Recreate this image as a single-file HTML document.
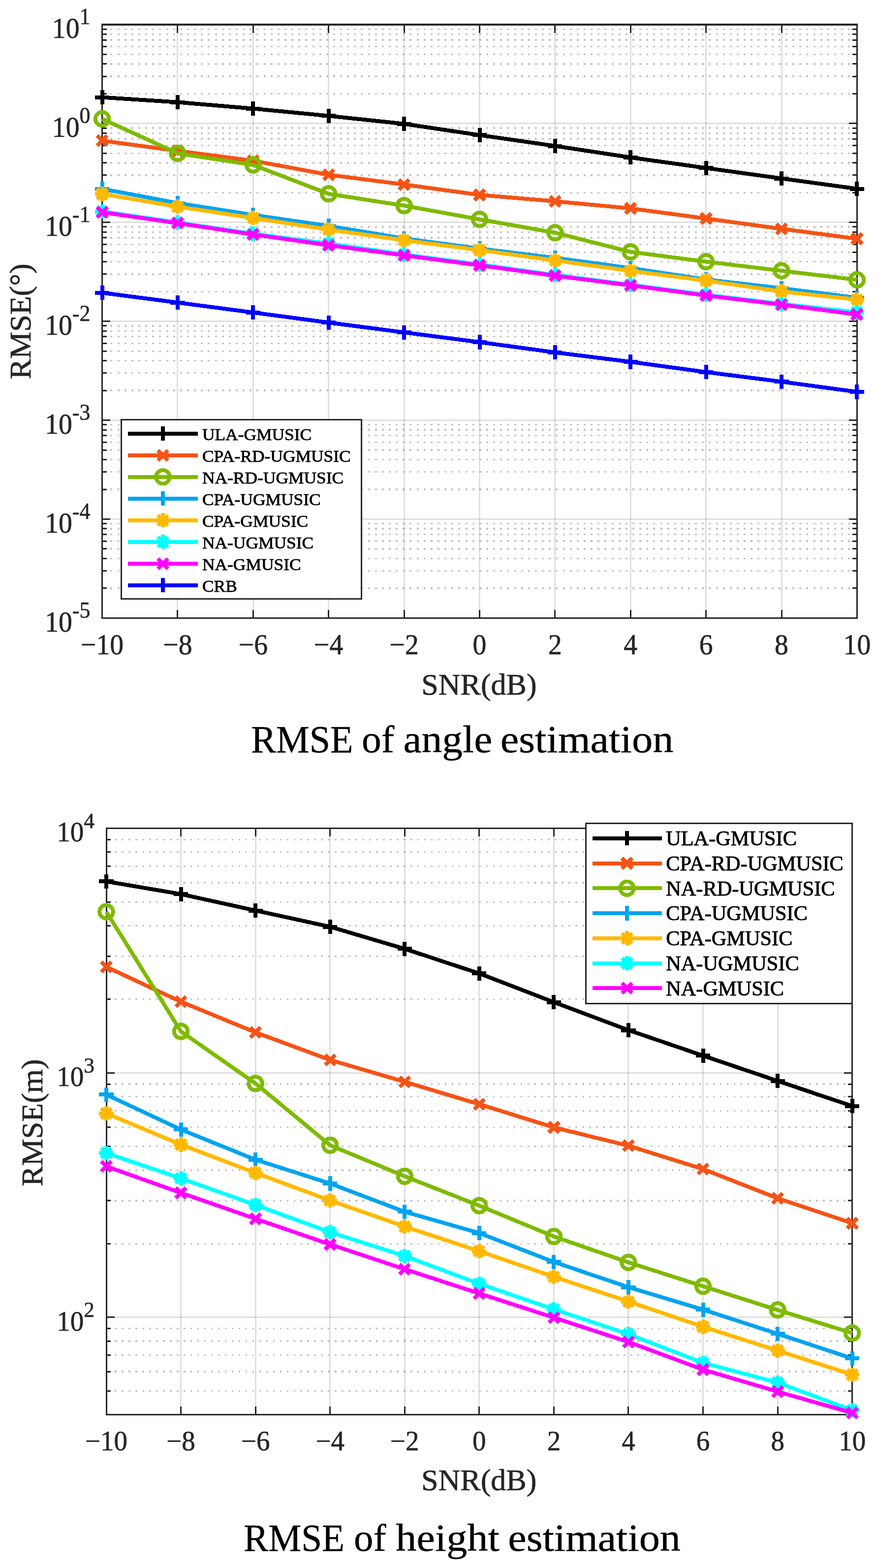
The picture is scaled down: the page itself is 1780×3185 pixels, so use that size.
<!DOCTYPE html>
<html><head><meta charset="utf-8"><title>RMSE plots</title><style>html,body{margin:0;padding:0;background:#fff;}svg{display:block;}</style></head><body>
<svg width="1780" height="3185" viewBox="0 0 1780 3185" shape-rendering="crispEdges">
<rect width="1780" height="3185" fill="#fff"/>
<path d="M360.98 50V1255.4M514.36 50V1255.4M667.74 50V1255.4M821.12 50V1255.4M974.5 50V1255.4M1127.88 50V1255.4M1281.26 50V1255.4M1434.64 50V1255.4M1588.02 50V1255.4" stroke="#262626" stroke-opacity="0.15" stroke-width="3" fill="none"/>
<path d="M207.6 250.9H1741.4M207.6 451.8H1741.4M207.6 652.7H1741.4M207.6 853.6H1741.4M207.6 1054.5H1741.4" stroke="#262626" stroke-opacity="0.15" stroke-width="3" fill="none"/>
<path d="M207.6 59.19H1741.4M207.6 69.47H1741.4M207.6 81.12H1741.4M207.6 94.57H1741.4M207.6 110.48H1741.4M207.6 129.95H1741.4M207.6 155.05H1741.4M207.6 190.42H1741.4M207.6 260.09H1741.4M207.6 270.37H1741.4M207.6 282.02H1741.4M207.6 295.47H1741.4M207.6 311.38H1741.4M207.6 330.85H1741.4M207.6 355.95H1741.4M207.6 391.32H1741.4M207.6 460.99H1741.4M207.6 471.27H1741.4M207.6 482.92H1741.4M207.6 496.37H1741.4M207.6 512.28H1741.4M207.6 531.75H1741.4M207.6 556.85H1741.4M207.6 592.22H1741.4M207.6 661.89H1741.4M207.6 672.17H1741.4M207.6 683.82H1741.4M207.6 697.27H1741.4M207.6 713.18H1741.4M207.6 732.65H1741.4M207.6 757.75H1741.4M207.6 793.12H1741.4M207.6 862.79H1741.4M207.6 873.07H1741.4M207.6 884.72H1741.4M207.6 898.17H1741.4M207.6 914.08H1741.4M207.6 933.55H1741.4M207.6 958.65H1741.4M207.6 994.02H1741.4M207.6 1063.69H1741.4M207.6 1073.97H1741.4M207.6 1085.62H1741.4M207.6 1099.07H1741.4M207.6 1114.98H1741.4M207.6 1134.45H1741.4M207.6 1159.55H1741.4M207.6 1194.92H1741.4" stroke="#262626" stroke-opacity="0.27" stroke-width="3.3" stroke-dasharray="4 10.14" stroke-dashoffset="-2.71" fill="none"/>
<path d="M360.98 1255.4V1238.9M360.98 50V66.5M514.36 1255.4V1238.9M514.36 50V66.5M667.74 1255.4V1238.9M667.74 50V66.5M821.12 1255.4V1238.9M821.12 50V66.5M974.5 1255.4V1238.9M974.5 50V66.5M1127.88 1255.4V1238.9M1127.88 50V66.5M1281.26 1255.4V1238.9M1281.26 50V66.5M1434.64 1255.4V1238.9M1434.64 50V66.5M1588.02 1255.4V1238.9M1588.02 50V66.5M207.6 50H224.1M1741.4 50H1724.9M207.6 250.9H224.1M1741.4 250.9H1724.9M207.6 451.8H224.1M1741.4 451.8H1724.9M207.6 652.7H224.1M1741.4 652.7H1724.9M207.6 853.6H224.1M1741.4 853.6H1724.9M207.6 1054.5H224.1M1741.4 1054.5H1724.9M207.6 1255.4H224.1M1741.4 1255.4H1724.9M207.6 59.19H216.6M1741.4 59.19H1732.4M207.6 69.47H216.6M1741.4 69.47H1732.4M207.6 81.12H216.6M1741.4 81.12H1732.4M207.6 94.57H216.6M1741.4 94.57H1732.4M207.6 110.48H216.6M1741.4 110.48H1732.4M207.6 129.95H216.6M1741.4 129.95H1732.4M207.6 155.05H216.6M1741.4 155.05H1732.4M207.6 190.42H216.6M1741.4 190.42H1732.4M207.6 260.09H216.6M1741.4 260.09H1732.4M207.6 270.37H216.6M1741.4 270.37H1732.4M207.6 282.02H216.6M1741.4 282.02H1732.4M207.6 295.47H216.6M1741.4 295.47H1732.4M207.6 311.38H216.6M1741.4 311.38H1732.4M207.6 330.85H216.6M1741.4 330.85H1732.4M207.6 355.95H216.6M1741.4 355.95H1732.4M207.6 391.32H216.6M1741.4 391.32H1732.4M207.6 460.99H216.6M1741.4 460.99H1732.4M207.6 471.27H216.6M1741.4 471.27H1732.4M207.6 482.92H216.6M1741.4 482.92H1732.4M207.6 496.37H216.6M1741.4 496.37H1732.4M207.6 512.28H216.6M1741.4 512.28H1732.4M207.6 531.75H216.6M1741.4 531.75H1732.4M207.6 556.85H216.6M1741.4 556.85H1732.4M207.6 592.22H216.6M1741.4 592.22H1732.4M207.6 661.89H216.6M1741.4 661.89H1732.4M207.6 672.17H216.6M1741.4 672.17H1732.4M207.6 683.82H216.6M1741.4 683.82H1732.4M207.6 697.27H216.6M1741.4 697.27H1732.4M207.6 713.18H216.6M1741.4 713.18H1732.4M207.6 732.65H216.6M1741.4 732.65H1732.4M207.6 757.75H216.6M1741.4 757.75H1732.4M207.6 793.12H216.6M1741.4 793.12H1732.4M207.6 862.79H216.6M1741.4 862.79H1732.4M207.6 873.07H216.6M1741.4 873.07H1732.4M207.6 884.72H216.6M1741.4 884.72H1732.4M207.6 898.17H216.6M1741.4 898.17H1732.4M207.6 914.08H216.6M1741.4 914.08H1732.4M207.6 933.55H216.6M1741.4 933.55H1732.4M207.6 958.65H216.6M1741.4 958.65H1732.4M207.6 994.02H216.6M1741.4 994.02H1732.4M207.6 1063.69H216.6M1741.4 1063.69H1732.4M207.6 1073.97H216.6M1741.4 1073.97H1732.4M207.6 1085.62H216.6M1741.4 1085.62H1732.4M207.6 1099.07H216.6M1741.4 1099.07H1732.4M207.6 1114.98H216.6M1741.4 1114.98H1732.4M207.6 1134.45H216.6M1741.4 1134.45H1732.4M207.6 1159.55H216.6M1741.4 1159.55H1732.4M207.6 1194.92H216.6M1741.4 1194.92H1732.4" stroke="#262626" stroke-width="3" fill="none"/>
<g fill="#262626" shape-rendering="crispEdges"><rect x="206" y="48" width="3" height="1209"/><rect x="1740" y="48" width="3" height="1209"/><rect x="206" y="48" width="1537" height="4"/><rect x="206" y="1254" width="1537" height="3"/></g>
<polyline points="207.6,197.7 360.98,207.6 514.36,220.6 667.74,235.4 821.12,251.6 974.5,274.4 1127.88,296.5 1281.26,319.8 1434.64,341.25 1588.02,362.5 1741.4,383.5" fill="none" stroke="#000000" stroke-width="8.0" stroke-linejoin="round" shape-rendering="crispEdges"/>
<g shape-rendering="crispEdges"><path d="M193 197.7H222.2M207.6 183.1V212.3" fill="none" stroke="#000000" stroke-width="8"/><path d="M346.38 207.6H375.58M360.98 193V222.2" fill="none" stroke="#000000" stroke-width="8"/><path d="M499.76 220.6H528.96M514.36 206V235.2" fill="none" stroke="#000000" stroke-width="8"/><path d="M653.14 235.4H682.34M667.74 220.8V250" fill="none" stroke="#000000" stroke-width="8"/><path d="M806.52 251.6H835.72M821.12 237V266.2" fill="none" stroke="#000000" stroke-width="8"/><path d="M959.9 274.4H989.1M974.5 259.8V289" fill="none" stroke="#000000" stroke-width="8"/><path d="M1113.28 296.5H1142.48M1127.88 281.9V311.1" fill="none" stroke="#000000" stroke-width="8"/><path d="M1266.66 319.8H1295.86M1281.26 305.2V334.4" fill="none" stroke="#000000" stroke-width="8"/><path d="M1420.04 341.25H1449.24M1434.64 326.65V355.85" fill="none" stroke="#000000" stroke-width="8"/><path d="M1573.42 362.5H1602.62M1588.02 347.9V377.1" fill="none" stroke="#000000" stroke-width="8"/><path d="M1726.8 383.5H1756M1741.4 368.9V398.1" fill="none" stroke="#000000" stroke-width="8"/></g>
<polyline points="207.6,285.7 360.98,306.5 514.36,326.5 667.74,355 821.12,374.8 974.5,395.9 1127.88,408.9 1281.26,423.3 1434.64,443.9 1588.02,464.8 1741.4,485" fill="none" stroke="#F65316" stroke-width="8.0" stroke-linejoin="round" shape-rendering="crispEdges"/>
<g shape-rendering="crispEdges"><path d="M197.28 275.38L217.92 296.02M197.28 296.02L217.92 275.38" fill="none" stroke="#F65316" stroke-width="8"/><path d="M350.66 296.18L371.3 316.82M350.66 316.82L371.3 296.18" fill="none" stroke="#F65316" stroke-width="8"/><path d="M504.04 316.18L524.68 336.82M504.04 336.82L524.68 316.18" fill="none" stroke="#F65316" stroke-width="8"/><path d="M657.42 344.68L678.06 365.32M657.42 365.32L678.06 344.68" fill="none" stroke="#F65316" stroke-width="8"/><path d="M810.8 364.48L831.44 385.12M810.8 385.12L831.44 364.48" fill="none" stroke="#F65316" stroke-width="8"/><path d="M964.18 385.58L984.82 406.22M964.18 406.22L984.82 385.58" fill="none" stroke="#F65316" stroke-width="8"/><path d="M1117.56 398.58L1138.2 419.22M1117.56 419.22L1138.2 398.58" fill="none" stroke="#F65316" stroke-width="8"/><path d="M1270.94 412.98L1291.58 433.62M1270.94 433.62L1291.58 412.98" fill="none" stroke="#F65316" stroke-width="8"/><path d="M1424.32 433.58L1444.96 454.22M1424.32 454.22L1444.96 433.58" fill="none" stroke="#F65316" stroke-width="8"/><path d="M1577.7 454.48L1598.34 475.12M1577.7 475.12L1598.34 454.48" fill="none" stroke="#F65316" stroke-width="8"/><path d="M1731.08 474.68L1751.72 495.32M1731.08 495.32L1751.72 474.68" fill="none" stroke="#F65316" stroke-width="8"/></g>
<polyline points="207.6,241.4 360.98,311.5 514.36,335 667.74,393.75 821.12,417.7 974.5,445.6 1127.88,472.7 1281.26,511.7 1434.64,531.5 1588.02,550 1741.4,568.4" fill="none" stroke="#7FBA00" stroke-width="8.0" stroke-linejoin="round" shape-rendering="crispEdges"/>
<g shape-rendering="crispEdges"><circle cx="207.6" cy="241.4" r="13.8" fill="none" stroke="#7FBA00" stroke-width="7.8"/><circle cx="360.98" cy="311.5" r="13.8" fill="none" stroke="#7FBA00" stroke-width="7.8"/><circle cx="514.36" cy="335" r="13.8" fill="none" stroke="#7FBA00" stroke-width="7.8"/><circle cx="667.74" cy="393.75" r="13.8" fill="none" stroke="#7FBA00" stroke-width="7.8"/><circle cx="821.12" cy="417.7" r="13.8" fill="none" stroke="#7FBA00" stroke-width="7.8"/><circle cx="974.5" cy="445.6" r="13.8" fill="none" stroke="#7FBA00" stroke-width="7.8"/><circle cx="1127.88" cy="472.7" r="13.8" fill="none" stroke="#7FBA00" stroke-width="7.8"/><circle cx="1281.26" cy="511.7" r="13.8" fill="none" stroke="#7FBA00" stroke-width="7.8"/><circle cx="1434.64" cy="531.5" r="13.8" fill="none" stroke="#7FBA00" stroke-width="7.8"/><circle cx="1588.02" cy="550" r="13.8" fill="none" stroke="#7FBA00" stroke-width="7.8"/><circle cx="1741.4" cy="568.4" r="13.8" fill="none" stroke="#7FBA00" stroke-width="7.8"/></g>
<polyline points="207.6,383.7 360.98,412.5 514.36,436.6 667.74,459 821.12,484.4 974.5,505 1127.88,523.8 1281.26,544.5 1434.64,567.8 1588.02,585.5 1741.4,604.8" fill="none" stroke="#00A4EF" stroke-width="8.0" stroke-linejoin="round" shape-rendering="crispEdges"/>
<g shape-rendering="crispEdges"><path d="M193 383.7H222.2M207.6 369.1V398.3" fill="none" stroke="#00A4EF" stroke-width="8"/><path d="M346.38 412.5H375.58M360.98 397.9V427.1" fill="none" stroke="#00A4EF" stroke-width="8"/><path d="M499.76 436.6H528.96M514.36 422V451.2" fill="none" stroke="#00A4EF" stroke-width="8"/><path d="M653.14 459H682.34M667.74 444.4V473.6" fill="none" stroke="#00A4EF" stroke-width="8"/><path d="M806.52 484.4H835.72M821.12 469.8V499" fill="none" stroke="#00A4EF" stroke-width="8"/><path d="M959.9 505H989.1M974.5 490.4V519.6" fill="none" stroke="#00A4EF" stroke-width="8"/><path d="M1113.28 523.8H1142.48M1127.88 509.2V538.4" fill="none" stroke="#00A4EF" stroke-width="8"/><path d="M1266.66 544.5H1295.86M1281.26 529.9V559.1" fill="none" stroke="#00A4EF" stroke-width="8"/><path d="M1420.04 567.8H1449.24M1434.64 553.2V582.4" fill="none" stroke="#00A4EF" stroke-width="8"/><path d="M1573.42 585.5H1602.62M1588.02 570.9V600.1" fill="none" stroke="#00A4EF" stroke-width="8"/><path d="M1726.8 604.8H1756M1741.4 590.2V619.4" fill="none" stroke="#00A4EF" stroke-width="8"/></g>
<polyline points="207.6,394 360.98,419.8 514.36,442.7 667.74,466.25 821.12,488 974.5,508 1127.88,529 1281.26,550.2 1434.64,570 1588.02,592 1741.4,608.5" fill="none" stroke="#FFB900" stroke-width="8.0" stroke-linejoin="round" shape-rendering="crispEdges"/>
<g shape-rendering="crispEdges"><path d="M193 394H222.2M207.6 379.4V408.6M197.28 383.68L217.92 404.32M197.28 404.32L217.92 383.68" fill="none" stroke="#FFB900" stroke-width="8"/><path d="M346.38 419.8H375.58M360.98 405.2V434.4M350.66 409.48L371.3 430.12M350.66 430.12L371.3 409.48" fill="none" stroke="#FFB900" stroke-width="8"/><path d="M499.76 442.7H528.96M514.36 428.1V457.3M504.04 432.38L524.68 453.02M504.04 453.02L524.68 432.38" fill="none" stroke="#FFB900" stroke-width="8"/><path d="M653.14 466.25H682.34M667.74 451.65V480.85M657.42 455.93L678.06 476.57M657.42 476.57L678.06 455.93" fill="none" stroke="#FFB900" stroke-width="8"/><path d="M806.52 488H835.72M821.12 473.4V502.6M810.8 477.68L831.44 498.32M810.8 498.32L831.44 477.68" fill="none" stroke="#FFB900" stroke-width="8"/><path d="M959.9 508H989.1M974.5 493.4V522.6M964.18 497.68L984.82 518.32M964.18 518.32L984.82 497.68" fill="none" stroke="#FFB900" stroke-width="8"/><path d="M1113.28 529H1142.48M1127.88 514.4V543.6M1117.56 518.68L1138.2 539.32M1117.56 539.32L1138.2 518.68" fill="none" stroke="#FFB900" stroke-width="8"/><path d="M1266.66 550.2H1295.86M1281.26 535.6V564.8M1270.94 539.88L1291.58 560.52M1270.94 560.52L1291.58 539.88" fill="none" stroke="#FFB900" stroke-width="8"/><path d="M1420.04 570H1449.24M1434.64 555.4V584.6M1424.32 559.68L1444.96 580.32M1424.32 580.32L1444.96 559.68" fill="none" stroke="#FFB900" stroke-width="8"/><path d="M1573.42 592H1602.62M1588.02 577.4V606.6M1577.7 581.68L1598.34 602.32M1577.7 602.32L1598.34 581.68" fill="none" stroke="#FFB900" stroke-width="8"/><path d="M1726.8 608.5H1756M1741.4 593.9V623.1M1731.08 598.18L1751.72 618.82M1731.08 618.82L1751.72 598.18" fill="none" stroke="#FFB900" stroke-width="8"/></g>
<polyline points="207.6,429.6 360.98,452 514.36,475 667.74,494.8 821.12,517 974.5,537.3 1127.88,558.6 1281.26,578.4 1434.64,598.8 1588.02,617.5 1741.4,634.2" fill="none" stroke="#00FFFF" stroke-width="8.0" stroke-linejoin="round" shape-rendering="crispEdges"/>
<g shape-rendering="crispEdges"><path d="M193 429.6H222.2M207.6 415V444.2M197.28 419.28L217.92 439.92M197.28 439.92L217.92 419.28" fill="none" stroke="#00FFFF" stroke-width="8"/><path d="M346.38 452H375.58M360.98 437.4V466.6M350.66 441.68L371.3 462.32M350.66 462.32L371.3 441.68" fill="none" stroke="#00FFFF" stroke-width="8"/><path d="M499.76 475H528.96M514.36 460.4V489.6M504.04 464.68L524.68 485.32M504.04 485.32L524.68 464.68" fill="none" stroke="#00FFFF" stroke-width="8"/><path d="M653.14 494.8H682.34M667.74 480.2V509.4M657.42 484.48L678.06 505.12M657.42 505.12L678.06 484.48" fill="none" stroke="#00FFFF" stroke-width="8"/><path d="M806.52 517H835.72M821.12 502.4V531.6M810.8 506.68L831.44 527.32M810.8 527.32L831.44 506.68" fill="none" stroke="#00FFFF" stroke-width="8"/><path d="M959.9 537.3H989.1M974.5 522.7V551.9M964.18 526.98L984.82 547.62M964.18 547.62L984.82 526.98" fill="none" stroke="#00FFFF" stroke-width="8"/><path d="M1113.28 558.6H1142.48M1127.88 544V573.2M1117.56 548.28L1138.2 568.92M1117.56 568.92L1138.2 548.28" fill="none" stroke="#00FFFF" stroke-width="8"/><path d="M1266.66 578.4H1295.86M1281.26 563.8V593M1270.94 568.08L1291.58 588.72M1270.94 588.72L1291.58 568.08" fill="none" stroke="#00FFFF" stroke-width="8"/><path d="M1420.04 598.8H1449.24M1434.64 584.2V613.4M1424.32 588.48L1444.96 609.12M1424.32 609.12L1444.96 588.48" fill="none" stroke="#00FFFF" stroke-width="8"/><path d="M1573.42 617.5H1602.62M1588.02 602.9V632.1M1577.7 607.18L1598.34 627.82M1577.7 627.82L1598.34 607.18" fill="none" stroke="#00FFFF" stroke-width="8"/><path d="M1726.8 634.2H1756M1741.4 619.6V648.8M1731.08 623.88L1751.72 644.52M1731.08 644.52L1751.72 623.88" fill="none" stroke="#00FFFF" stroke-width="8"/></g>
<polyline points="207.6,431.2 360.98,453.3 514.36,476.3 667.74,498.1 821.12,518.75 974.5,539 1127.88,560.1 1281.26,579.7 1434.64,600.3 1588.02,618.8 1741.4,638.8" fill="none" stroke="#FF00FF" stroke-width="8.0" stroke-linejoin="round" shape-rendering="crispEdges"/>
<g shape-rendering="crispEdges"><path d="M197.28 420.88L217.92 441.52M197.28 441.52L217.92 420.88" fill="none" stroke="#FF00FF" stroke-width="8"/><path d="M350.66 442.98L371.3 463.62M350.66 463.62L371.3 442.98" fill="none" stroke="#FF00FF" stroke-width="8"/><path d="M504.04 465.98L524.68 486.62M504.04 486.62L524.68 465.98" fill="none" stroke="#FF00FF" stroke-width="8"/><path d="M657.42 487.78L678.06 508.42M657.42 508.42L678.06 487.78" fill="none" stroke="#FF00FF" stroke-width="8"/><path d="M810.8 508.43L831.44 529.07M810.8 529.07L831.44 508.43" fill="none" stroke="#FF00FF" stroke-width="8"/><path d="M964.18 528.68L984.82 549.32M964.18 549.32L984.82 528.68" fill="none" stroke="#FF00FF" stroke-width="8"/><path d="M1117.56 549.78L1138.2 570.42M1117.56 570.42L1138.2 549.78" fill="none" stroke="#FF00FF" stroke-width="8"/><path d="M1270.94 569.38L1291.58 590.02M1270.94 590.02L1291.58 569.38" fill="none" stroke="#FF00FF" stroke-width="8"/><path d="M1424.32 589.98L1444.96 610.62M1424.32 610.62L1444.96 589.98" fill="none" stroke="#FF00FF" stroke-width="8"/><path d="M1577.7 608.48L1598.34 629.12M1577.7 629.12L1598.34 608.48" fill="none" stroke="#FF00FF" stroke-width="8"/><path d="M1731.08 628.48L1751.72 649.12M1731.08 649.12L1751.72 628.48" fill="none" stroke="#FF00FF" stroke-width="8"/></g>
<polyline points="207.6,594.7 360.98,614.6 514.36,634.8 667.74,655.2 821.12,675.2 974.5,695 1127.88,715.8 1281.26,735 1434.64,755.8 1588.02,775.3 1741.4,796" fill="none" stroke="#0000FF" stroke-width="8.0" stroke-linejoin="round" shape-rendering="crispEdges"/>
<g shape-rendering="crispEdges"><path d="M193 594.7H222.2M207.6 580.1V609.3" fill="none" stroke="#0000FF" stroke-width="8"/><path d="M346.38 614.6H375.58M360.98 600V629.2" fill="none" stroke="#0000FF" stroke-width="8"/><path d="M499.76 634.8H528.96M514.36 620.2V649.4" fill="none" stroke="#0000FF" stroke-width="8"/><path d="M653.14 655.2H682.34M667.74 640.6V669.8" fill="none" stroke="#0000FF" stroke-width="8"/><path d="M806.52 675.2H835.72M821.12 660.6V689.8" fill="none" stroke="#0000FF" stroke-width="8"/><path d="M959.9 695H989.1M974.5 680.4V709.6" fill="none" stroke="#0000FF" stroke-width="8"/><path d="M1113.28 715.8H1142.48M1127.88 701.2V730.4" fill="none" stroke="#0000FF" stroke-width="8"/><path d="M1266.66 735H1295.86M1281.26 720.4V749.6" fill="none" stroke="#0000FF" stroke-width="8"/><path d="M1420.04 755.8H1449.24M1434.64 741.2V770.4" fill="none" stroke="#0000FF" stroke-width="8"/><path d="M1573.42 775.3H1602.62M1588.02 760.7V789.9" fill="none" stroke="#0000FF" stroke-width="8"/><path d="M1726.8 796H1756M1741.4 781.4V810.6" fill="none" stroke="#0000FF" stroke-width="8"/></g>
<g font-family="'Liberation Serif', 'Times New Roman', serif" font-size="55.7" fill="#262626" stroke="#262626" stroke-width="0.6"><text transform="translate(183.5,77.2) scale(1,1.05)" text-anchor="end">10<tspan font-size="44" dy="-26.6">1</tspan></text><text transform="translate(183.5,278.1) scale(1,1.05)" text-anchor="end">10<tspan font-size="44" dy="-26.6">0</tspan></text><text transform="translate(183.5,479) scale(1,1.05)" text-anchor="end">10<tspan font-size="44" dy="-26.6">-1</tspan></text><text transform="translate(183.5,679.9) scale(1,1.05)" text-anchor="end">10<tspan font-size="44" dy="-26.6">-2</tspan></text><text transform="translate(183.5,880.8) scale(1,1.05)" text-anchor="end">10<tspan font-size="44" dy="-26.6">-3</tspan></text><text transform="translate(183.5,1081.7) scale(1,1.05)" text-anchor="end">10<tspan font-size="44" dy="-26.6">-4</tspan></text><text transform="translate(183.5,1282.6) scale(1,1.05)" text-anchor="end">10<tspan font-size="44" dy="-26.6">-5</tspan></text><text transform="translate(207.6,1329) scale(1,1.05)" text-anchor="middle">−10</text><text transform="translate(360.98,1329) scale(1,1.05)" text-anchor="middle">−8</text><text transform="translate(514.36,1329) scale(1,1.05)" text-anchor="middle">−6</text><text transform="translate(667.74,1329) scale(1,1.05)" text-anchor="middle">−4</text><text transform="translate(821.12,1329) scale(1,1.05)" text-anchor="middle">−2</text><text transform="translate(974.5,1329) scale(1,1.05)" text-anchor="middle">0</text><text transform="translate(1127.88,1329) scale(1,1.05)" text-anchor="middle">2</text><text transform="translate(1281.26,1329) scale(1,1.05)" text-anchor="middle">4</text><text transform="translate(1434.64,1329) scale(1,1.05)" text-anchor="middle">6</text><text transform="translate(1588.02,1329) scale(1,1.05)" text-anchor="middle">8</text><text transform="translate(1741.4,1329) scale(1,1.05)" text-anchor="middle">10</text></g>
<text x="973.4" y="1411" text-anchor="middle" font-family="'Liberation Serif', 'Times New Roman', serif" font-size="62" fill="#262626" stroke="#262626" stroke-width="0.7">SNR(dB)</text>
<text transform="translate(61.7,652.8) rotate(-90)" x="0" y="0" text-anchor="middle" font-family="'Liberation Serif', 'Times New Roman', serif" font-size="62" fill="#262626" stroke="#262626" stroke-width="0.7">RMSE(°)</text>
<g font-family="'Liberation Serif', 'Times New Roman', serif" font-size="78" fill="#000" stroke="#000" stroke-width="0.4"><text x="510.31" y="1527.8" textLength="207.23" lengthAdjust="spacingAndGlyphs">RMSE</text><text x="734.97" y="1527.8" textLength="66.28" lengthAdjust="spacingAndGlyphs">of</text><text x="819.56" y="1527.8" textLength="180.83" lengthAdjust="spacingAndGlyphs">angle</text><text x="1016.7" y="1527.8" textLength="351.78" lengthAdjust="spacingAndGlyphs">estimation</text></g>
<rect x="246" y="852.5" width="488.1" height="363.5" fill="#fff" stroke="#262626" stroke-width="3"/>
<path d="M260 880.8H401.7" stroke="#000000" stroke-width="8.0" fill="none"/>
<path d="M316.4 880.8H345.6M331 866.2V895.4" fill="none" stroke="#000000" stroke-width="8"/>
<text transform="translate(410.9,894.1) scale(1.027,1)" font-family="'Liberation Serif', 'Times New Roman', serif" font-size="34.5" fill="#000" stroke="#000" stroke-width="0.8">ULA-GMUSIC</text>
<path d="M260 924.8H401.7" stroke="#F65316" stroke-width="8.0" fill="none"/>
<path d="M320.68 914.48L341.32 935.12M320.68 935.12L341.32 914.48" fill="none" stroke="#F65316" stroke-width="8"/>
<text transform="translate(410.9,938.1) scale(1.027,1)" font-family="'Liberation Serif', 'Times New Roman', serif" font-size="34.5" fill="#000" stroke="#000" stroke-width="0.8">CPA-RD-UGMUSIC</text>
<path d="M260 968.8H401.7" stroke="#7FBA00" stroke-width="8.0" fill="none"/>
<circle cx="331" cy="968.8" r="13.8" fill="none" stroke="#7FBA00" stroke-width="7.8"/>
<text transform="translate(410.9,982.1) scale(1.027,1)" font-family="'Liberation Serif', 'Times New Roman', serif" font-size="34.5" fill="#000" stroke="#000" stroke-width="0.8">NA-RD-UGMUSIC</text>
<path d="M260 1012.8H401.7" stroke="#00A4EF" stroke-width="8.0" fill="none"/>
<path d="M316.4 1012.8H345.6M331 998.2V1027.4" fill="none" stroke="#00A4EF" stroke-width="8"/>
<text transform="translate(410.9,1026.1) scale(1.027,1)" font-family="'Liberation Serif', 'Times New Roman', serif" font-size="34.5" fill="#000" stroke="#000" stroke-width="0.8">CPA-UGMUSIC</text>
<path d="M260 1056.8H401.7" stroke="#FFB900" stroke-width="8.0" fill="none"/>
<path d="M316.4 1056.8H345.6M331 1042.2V1071.4M320.68 1046.48L341.32 1067.12M320.68 1067.12L341.32 1046.48" fill="none" stroke="#FFB900" stroke-width="8"/>
<text transform="translate(410.9,1070.1) scale(1.027,1)" font-family="'Liberation Serif', 'Times New Roman', serif" font-size="34.5" fill="#000" stroke="#000" stroke-width="0.8">CPA-GMUSIC</text>
<path d="M260 1100.8H401.7" stroke="#00FFFF" stroke-width="8.0" fill="none"/>
<path d="M316.4 1100.8H345.6M331 1086.2V1115.4M320.68 1090.48L341.32 1111.12M320.68 1111.12L341.32 1090.48" fill="none" stroke="#00FFFF" stroke-width="8"/>
<text transform="translate(410.9,1114.1) scale(1.027,1)" font-family="'Liberation Serif', 'Times New Roman', serif" font-size="34.5" fill="#000" stroke="#000" stroke-width="0.8">NA-UGMUSIC</text>
<path d="M260 1144.8H401.7" stroke="#FF00FF" stroke-width="8.0" fill="none"/>
<path d="M320.68 1134.48L341.32 1155.12M320.68 1155.12L341.32 1134.48" fill="none" stroke="#FF00FF" stroke-width="8"/>
<text transform="translate(410.9,1158.1) scale(1.027,1)" font-family="'Liberation Serif', 'Times New Roman', serif" font-size="34.5" fill="#000" stroke="#000" stroke-width="0.8">NA-GMUSIC</text>
<path d="M260 1188.8H401.7" stroke="#0000FF" stroke-width="8.0" fill="none"/>
<path d="M316.4 1188.8H345.6M331 1174.2V1203.4" fill="none" stroke="#0000FF" stroke-width="8"/>
<text transform="translate(410.9,1202.1) scale(1.027,1)" font-family="'Liberation Serif', 'Times New Roman', serif" font-size="34.5" fill="#000" stroke="#000" stroke-width="0.8">CRB</text>
<path d="M367.57 1682.7V2873.6M519.14 1682.7V2873.6M670.71 1682.7V2873.6M822.28 1682.7V2873.6M973.85 1682.7V2873.6M1125.42 1682.7V2873.6M1276.99 1682.7V2873.6M1428.56 1682.7V2873.6M1580.13 1682.7V2873.6" stroke="#262626" stroke-opacity="0.15" stroke-width="3" fill="none"/>
<path d="M216 2179.3H1731.7M216 2675.9H1731.7" stroke="#262626" stroke-opacity="0.15" stroke-width="3" fill="none"/>
<path d="M216 1705.42H1731.7M216 1730.83H1731.7M216 1759.62H1731.7M216 1792.87H1731.7M216 1832.19H1731.7M216 1880.32H1731.7M216 1942.36H1731.7M216 2029.81H1731.7M216 2202.02H1731.7M216 2227.43H1731.7M216 2256.22H1731.7M216 2289.47H1731.7M216 2328.79H1731.7M216 2376.92H1731.7M216 2438.96H1731.7M216 2526.41H1731.7M216 2698.62H1731.7M216 2724.03H1731.7M216 2752.82H1731.7M216 2786.07H1731.7M216 2825.39H1731.7" stroke="#262626" stroke-opacity="0.27" stroke-width="3.3" stroke-dasharray="3.5 10.47" stroke-dashoffset="-3.33" fill="none"/>
<path d="M367.57 2873.6V2857.1M367.57 1682.7V1699.2M519.14 2873.6V2857.1M519.14 1682.7V1699.2M670.71 2873.6V2857.1M670.71 1682.7V1699.2M822.28 2873.6V2857.1M822.28 1682.7V1699.2M973.85 2873.6V2857.1M973.85 1682.7V1699.2M1125.42 2873.6V2857.1M1125.42 1682.7V1699.2M1276.99 2873.6V2857.1M1276.99 1682.7V1699.2M1428.56 2873.6V2857.1M1428.56 1682.7V1699.2M1580.13 2873.6V2857.1M1580.13 1682.7V1699.2M216 1682.7H232.5M1731.7 1682.7H1715.2M216 2179.3H232.5M1731.7 2179.3H1715.2M216 2675.9H232.5M1731.7 2675.9H1715.2M216 1705.42H225M1731.7 1705.42H1722.7M216 1730.83H225M1731.7 1730.83H1722.7M216 1759.62H225M1731.7 1759.62H1722.7M216 1792.87H225M1731.7 1792.87H1722.7M216 1832.19H225M1731.7 1832.19H1722.7M216 1880.32H225M1731.7 1880.32H1722.7M216 1942.36H225M1731.7 1942.36H1722.7M216 2029.81H225M1731.7 2029.81H1722.7M216 2202.02H225M1731.7 2202.02H1722.7M216 2227.43H225M1731.7 2227.43H1722.7M216 2256.22H225M1731.7 2256.22H1722.7M216 2289.47H225M1731.7 2289.47H1722.7M216 2328.79H225M1731.7 2328.79H1722.7M216 2376.92H225M1731.7 2376.92H1722.7M216 2438.96H225M1731.7 2438.96H1722.7M216 2526.41H225M1731.7 2526.41H1722.7M216 2698.62H225M1731.7 2698.62H1722.7M216 2724.03H225M1731.7 2724.03H1722.7M216 2752.82H225M1731.7 2752.82H1722.7M216 2786.07H225M1731.7 2786.07H1722.7M216 2825.39H225M1731.7 2825.39H1722.7" stroke="#262626" stroke-width="3" fill="none"/>
<rect x="216" y="1682.7" width="1515.7" height="1190.9" fill="none" stroke="#262626" stroke-width="3"/>
<polyline points="216,1790.4 367.57,1816.2 519.14,1849.5 670.71,1882.5 822.28,1927.35 973.85,1977.3 1125.42,2035.7 1276.99,2092.5 1428.56,2144.3 1580.13,2195.7 1731.7,2246.7" fill="none" stroke="#000000" stroke-width="8.0" stroke-linejoin="round" shape-rendering="crispEdges"/>
<g shape-rendering="crispEdges"><path d="M201.4 1790.4H230.6M216 1775.8V1805" fill="none" stroke="#000000" stroke-width="8"/><path d="M352.97 1816.2H382.17M367.57 1801.6V1830.8" fill="none" stroke="#000000" stroke-width="8"/><path d="M504.54 1849.5H533.74M519.14 1834.9V1864.1" fill="none" stroke="#000000" stroke-width="8"/><path d="M656.11 1882.5H685.31M670.71 1867.9V1897.1" fill="none" stroke="#000000" stroke-width="8"/><path d="M807.68 1927.35H836.88M822.28 1912.75V1941.95" fill="none" stroke="#000000" stroke-width="8"/><path d="M959.25 1977.3H988.45M973.85 1962.7V1991.9" fill="none" stroke="#000000" stroke-width="8"/><path d="M1110.82 2035.7H1140.02M1125.42 2021.1V2050.3" fill="none" stroke="#000000" stroke-width="8"/><path d="M1262.39 2092.5H1291.59M1276.99 2077.9V2107.1" fill="none" stroke="#000000" stroke-width="8"/><path d="M1413.96 2144.3H1443.16M1428.56 2129.7V2158.9" fill="none" stroke="#000000" stroke-width="8"/><path d="M1565.53 2195.7H1594.73M1580.13 2181.1V2210.3" fill="none" stroke="#000000" stroke-width="8"/><path d="M1717.1 2246.7H1746.3M1731.7 2232.1V2261.3" fill="none" stroke="#000000" stroke-width="8"/></g>
<polyline points="216,1964 367.57,2034.7 519.14,2097 670.71,2153 822.28,2197.4 973.85,2243 1125.42,2290 1276.99,2327.3 1428.56,2374.7 1580.13,2434 1731.7,2484.7" fill="none" stroke="#F65316" stroke-width="8.0" stroke-linejoin="round" shape-rendering="crispEdges"/>
<g shape-rendering="crispEdges"><path d="M205.68 1953.68L226.32 1974.32M205.68 1974.32L226.32 1953.68" fill="none" stroke="#F65316" stroke-width="8"/><path d="M357.25 2024.38L377.89 2045.02M357.25 2045.02L377.89 2024.38" fill="none" stroke="#F65316" stroke-width="8"/><path d="M508.82 2086.68L529.46 2107.32M508.82 2107.32L529.46 2086.68" fill="none" stroke="#F65316" stroke-width="8"/><path d="M660.39 2142.68L681.03 2163.32M660.39 2163.32L681.03 2142.68" fill="none" stroke="#F65316" stroke-width="8"/><path d="M811.96 2187.08L832.6 2207.72M811.96 2207.72L832.6 2187.08" fill="none" stroke="#F65316" stroke-width="8"/><path d="M963.53 2232.68L984.17 2253.32M963.53 2253.32L984.17 2232.68" fill="none" stroke="#F65316" stroke-width="8"/><path d="M1115.1 2279.68L1135.74 2300.32M1115.1 2300.32L1135.74 2279.68" fill="none" stroke="#F65316" stroke-width="8"/><path d="M1266.67 2316.98L1287.31 2337.62M1266.67 2337.62L1287.31 2316.98" fill="none" stroke="#F65316" stroke-width="8"/><path d="M1418.24 2364.38L1438.88 2385.02M1418.24 2385.02L1438.88 2364.38" fill="none" stroke="#F65316" stroke-width="8"/><path d="M1569.81 2423.68L1590.45 2444.32M1569.81 2444.32L1590.45 2423.68" fill="none" stroke="#F65316" stroke-width="8"/><path d="M1721.38 2474.38L1742.02 2495.02M1721.38 2495.02L1742.02 2474.38" fill="none" stroke="#F65316" stroke-width="8"/></g>
<polyline points="216,1852 367.57,2095 519.14,2200.8 670.71,2326.2 822.28,2389.3 973.85,2449 1125.42,2511.6 1276.99,2564.2 1428.56,2612.7 1580.13,2660.9 1731.7,2707.8" fill="none" stroke="#7FBA00" stroke-width="8.0" stroke-linejoin="round" shape-rendering="crispEdges"/>
<g shape-rendering="crispEdges"><circle cx="216" cy="1852" r="13.8" fill="none" stroke="#7FBA00" stroke-width="7.8"/><circle cx="367.57" cy="2095" r="13.8" fill="none" stroke="#7FBA00" stroke-width="7.8"/><circle cx="519.14" cy="2200.8" r="13.8" fill="none" stroke="#7FBA00" stroke-width="7.8"/><circle cx="670.71" cy="2326.2" r="13.8" fill="none" stroke="#7FBA00" stroke-width="7.8"/><circle cx="822.28" cy="2389.3" r="13.8" fill="none" stroke="#7FBA00" stroke-width="7.8"/><circle cx="973.85" cy="2449" r="13.8" fill="none" stroke="#7FBA00" stroke-width="7.8"/><circle cx="1125.42" cy="2511.6" r="13.8" fill="none" stroke="#7FBA00" stroke-width="7.8"/><circle cx="1276.99" cy="2564.2" r="13.8" fill="none" stroke="#7FBA00" stroke-width="7.8"/><circle cx="1428.56" cy="2612.7" r="13.8" fill="none" stroke="#7FBA00" stroke-width="7.8"/><circle cx="1580.13" cy="2660.9" r="13.8" fill="none" stroke="#7FBA00" stroke-width="7.8"/><circle cx="1731.7" cy="2707.8" r="13.8" fill="none" stroke="#7FBA00" stroke-width="7.8"/></g>
<polyline points="216,2223.4 367.57,2294.4 519.14,2355.6 670.71,2404 822.28,2461.4 973.85,2504.6 1125.42,2563.4 1276.99,2614.6 1428.56,2660.2 1580.13,2709.3 1731.7,2759.3" fill="none" stroke="#00A4EF" stroke-width="8.0" stroke-linejoin="round" shape-rendering="crispEdges"/>
<g shape-rendering="crispEdges"><path d="M201.4 2223.4H230.6M216 2208.8V2238" fill="none" stroke="#00A4EF" stroke-width="8"/><path d="M352.97 2294.4H382.17M367.57 2279.8V2309" fill="none" stroke="#00A4EF" stroke-width="8"/><path d="M504.54 2355.6H533.74M519.14 2341V2370.2" fill="none" stroke="#00A4EF" stroke-width="8"/><path d="M656.11 2404H685.31M670.71 2389.4V2418.6" fill="none" stroke="#00A4EF" stroke-width="8"/><path d="M807.68 2461.4H836.88M822.28 2446.8V2476" fill="none" stroke="#00A4EF" stroke-width="8"/><path d="M959.25 2504.6H988.45M973.85 2490V2519.2" fill="none" stroke="#00A4EF" stroke-width="8"/><path d="M1110.82 2563.4H1140.02M1125.42 2548.8V2578" fill="none" stroke="#00A4EF" stroke-width="8"/><path d="M1262.39 2614.6H1291.59M1276.99 2600V2629.2" fill="none" stroke="#00A4EF" stroke-width="8"/><path d="M1413.96 2660.2H1443.16M1428.56 2645.6V2674.8" fill="none" stroke="#00A4EF" stroke-width="8"/><path d="M1565.53 2709.3H1594.73M1580.13 2694.7V2723.9" fill="none" stroke="#00A4EF" stroke-width="8"/><path d="M1717.1 2759.3H1746.3M1731.7 2744.7V2773.9" fill="none" stroke="#00A4EF" stroke-width="8"/></g>
<polyline points="216,2261.5 367.57,2325 519.14,2382.5 670.71,2438.5 822.28,2491.4 973.85,2541.5 1125.42,2593.5 1276.99,2643.7 1428.56,2695 1580.13,2743.4 1731.7,2792.2" fill="none" stroke="#FFB900" stroke-width="8.0" stroke-linejoin="round" shape-rendering="crispEdges"/>
<g shape-rendering="crispEdges"><path d="M201.4 2261.5H230.6M216 2246.9V2276.1M205.68 2251.18L226.32 2271.82M205.68 2271.82L226.32 2251.18" fill="none" stroke="#FFB900" stroke-width="8"/><path d="M352.97 2325H382.17M367.57 2310.4V2339.6M357.25 2314.68L377.89 2335.32M357.25 2335.32L377.89 2314.68" fill="none" stroke="#FFB900" stroke-width="8"/><path d="M504.54 2382.5H533.74M519.14 2367.9V2397.1M508.82 2372.18L529.46 2392.82M508.82 2392.82L529.46 2372.18" fill="none" stroke="#FFB900" stroke-width="8"/><path d="M656.11 2438.5H685.31M670.71 2423.9V2453.1M660.39 2428.18L681.03 2448.82M660.39 2448.82L681.03 2428.18" fill="none" stroke="#FFB900" stroke-width="8"/><path d="M807.68 2491.4H836.88M822.28 2476.8V2506M811.96 2481.08L832.6 2501.72M811.96 2501.72L832.6 2481.08" fill="none" stroke="#FFB900" stroke-width="8"/><path d="M959.25 2541.5H988.45M973.85 2526.9V2556.1M963.53 2531.18L984.17 2551.82M963.53 2551.82L984.17 2531.18" fill="none" stroke="#FFB900" stroke-width="8"/><path d="M1110.82 2593.5H1140.02M1125.42 2578.9V2608.1M1115.1 2583.18L1135.74 2603.82M1115.1 2603.82L1135.74 2583.18" fill="none" stroke="#FFB900" stroke-width="8"/><path d="M1262.39 2643.7H1291.59M1276.99 2629.1V2658.3M1266.67 2633.38L1287.31 2654.02M1266.67 2654.02L1287.31 2633.38" fill="none" stroke="#FFB900" stroke-width="8"/><path d="M1413.96 2695H1443.16M1428.56 2680.4V2709.6M1418.24 2684.68L1438.88 2705.32M1418.24 2705.32L1438.88 2684.68" fill="none" stroke="#FFB900" stroke-width="8"/><path d="M1565.53 2743.4H1594.73M1580.13 2728.8V2758M1569.81 2733.08L1590.45 2753.72M1569.81 2753.72L1590.45 2733.08" fill="none" stroke="#FFB900" stroke-width="8"/><path d="M1717.1 2792.2H1746.3M1731.7 2777.6V2806.8M1721.38 2781.88L1742.02 2802.52M1721.38 2802.52L1742.02 2781.88" fill="none" stroke="#FFB900" stroke-width="8"/></g>
<polyline points="216,2342.3 367.57,2393.5 519.14,2447.5 670.71,2502.8 822.28,2551.2 973.85,2607.6 1125.42,2659.5 1276.99,2710 1428.56,2768.2 1580.13,2808.4 1731.7,2864.4" fill="none" stroke="#00FFFF" stroke-width="8.0" stroke-linejoin="round" shape-rendering="crispEdges"/>
<g shape-rendering="crispEdges"><path d="M201.4 2342.3H230.6M216 2327.7V2356.9M205.68 2331.98L226.32 2352.62M205.68 2352.62L226.32 2331.98" fill="none" stroke="#00FFFF" stroke-width="8"/><path d="M352.97 2393.5H382.17M367.57 2378.9V2408.1M357.25 2383.18L377.89 2403.82M357.25 2403.82L377.89 2383.18" fill="none" stroke="#00FFFF" stroke-width="8"/><path d="M504.54 2447.5H533.74M519.14 2432.9V2462.1M508.82 2437.18L529.46 2457.82M508.82 2457.82L529.46 2437.18" fill="none" stroke="#00FFFF" stroke-width="8"/><path d="M656.11 2502.8H685.31M670.71 2488.2V2517.4M660.39 2492.48L681.03 2513.12M660.39 2513.12L681.03 2492.48" fill="none" stroke="#00FFFF" stroke-width="8"/><path d="M807.68 2551.2H836.88M822.28 2536.6V2565.8M811.96 2540.88L832.6 2561.52M811.96 2561.52L832.6 2540.88" fill="none" stroke="#00FFFF" stroke-width="8"/><path d="M959.25 2607.6H988.45M973.85 2593V2622.2M963.53 2597.28L984.17 2617.92M963.53 2617.92L984.17 2597.28" fill="none" stroke="#00FFFF" stroke-width="8"/><path d="M1110.82 2659.5H1140.02M1125.42 2644.9V2674.1M1115.1 2649.18L1135.74 2669.82M1115.1 2669.82L1135.74 2649.18" fill="none" stroke="#00FFFF" stroke-width="8"/><path d="M1262.39 2710H1291.59M1276.99 2695.4V2724.6M1266.67 2699.68L1287.31 2720.32M1266.67 2720.32L1287.31 2699.68" fill="none" stroke="#00FFFF" stroke-width="8"/><path d="M1413.96 2768.2H1443.16M1428.56 2753.6V2782.8M1418.24 2757.88L1438.88 2778.52M1418.24 2778.52L1438.88 2757.88" fill="none" stroke="#00FFFF" stroke-width="8"/><path d="M1565.53 2808.4H1594.73M1580.13 2793.8V2823M1569.81 2798.08L1590.45 2818.72M1569.81 2818.72L1590.45 2798.08" fill="none" stroke="#00FFFF" stroke-width="8"/><path d="M1717.1 2864.4H1746.3M1731.7 2849.8V2879M1721.38 2854.08L1742.02 2874.72M1721.38 2874.72L1742.02 2854.08" fill="none" stroke="#00FFFF" stroke-width="8"/></g>
<polyline points="216,2369.2 367.57,2423 519.14,2475.6 670.71,2527.7 822.28,2578 973.85,2627.3 1125.42,2676.4 1276.99,2725.8 1428.56,2782 1580.13,2826.7 1731.7,2870" fill="none" stroke="#FF00FF" stroke-width="8.0" stroke-linejoin="round" shape-rendering="crispEdges"/>
<g shape-rendering="crispEdges"><path d="M205.68 2358.88L226.32 2379.52M205.68 2379.52L226.32 2358.88" fill="none" stroke="#FF00FF" stroke-width="8"/><path d="M357.25 2412.68L377.89 2433.32M357.25 2433.32L377.89 2412.68" fill="none" stroke="#FF00FF" stroke-width="8"/><path d="M508.82 2465.28L529.46 2485.92M508.82 2485.92L529.46 2465.28" fill="none" stroke="#FF00FF" stroke-width="8"/><path d="M660.39 2517.38L681.03 2538.02M660.39 2538.02L681.03 2517.38" fill="none" stroke="#FF00FF" stroke-width="8"/><path d="M811.96 2567.68L832.6 2588.32M811.96 2588.32L832.6 2567.68" fill="none" stroke="#FF00FF" stroke-width="8"/><path d="M963.53 2616.98L984.17 2637.62M963.53 2637.62L984.17 2616.98" fill="none" stroke="#FF00FF" stroke-width="8"/><path d="M1115.1 2666.08L1135.74 2686.72M1115.1 2686.72L1135.74 2666.08" fill="none" stroke="#FF00FF" stroke-width="8"/><path d="M1266.67 2715.48L1287.31 2736.12M1266.67 2736.12L1287.31 2715.48" fill="none" stroke="#FF00FF" stroke-width="8"/><path d="M1418.24 2771.68L1438.88 2792.32M1418.24 2792.32L1438.88 2771.68" fill="none" stroke="#FF00FF" stroke-width="8"/><path d="M1569.81 2816.38L1590.45 2837.02M1569.81 2837.02L1590.45 2816.38" fill="none" stroke="#FF00FF" stroke-width="8"/><path d="M1721.38 2859.68L1742.02 2880.32M1721.38 2880.32L1742.02 2859.68" fill="none" stroke="#FF00FF" stroke-width="8"/></g>
<g font-family="'Liberation Serif', 'Times New Roman', serif" font-size="55.0" fill="#262626" stroke="#262626" stroke-width="0.6"><text transform="translate(192,1709.3) scale(1,1.02)" text-anchor="end">10<tspan font-size="43.5" dy="-26.6">4</tspan></text><text transform="translate(192,2205.9) scale(1,1.02)" text-anchor="end">10<tspan font-size="43.5" dy="-26.6">3</tspan></text><text transform="translate(192,2702.5) scale(1,1.02)" text-anchor="end">10<tspan font-size="43.5" dy="-26.6">2</tspan></text><text transform="translate(216,2946.2) scale(1,1.02)" text-anchor="middle">−10</text><text transform="translate(367.57,2946.2) scale(1,1.02)" text-anchor="middle">−8</text><text transform="translate(519.14,2946.2) scale(1,1.02)" text-anchor="middle">−6</text><text transform="translate(670.71,2946.2) scale(1,1.02)" text-anchor="middle">−4</text><text transform="translate(822.28,2946.2) scale(1,1.02)" text-anchor="middle">−2</text><text transform="translate(973.85,2946.2) scale(1,1.02)" text-anchor="middle">0</text><text transform="translate(1125.42,2946.2) scale(1,1.02)" text-anchor="middle">2</text><text transform="translate(1276.99,2946.2) scale(1,1.02)" text-anchor="middle">4</text><text transform="translate(1428.56,2946.2) scale(1,1.02)" text-anchor="middle">6</text><text transform="translate(1580.13,2946.2) scale(1,1.02)" text-anchor="middle">8</text><text transform="translate(1731.7,2946.2) scale(1,1.02)" text-anchor="middle">10</text></g>
<text x="973.2" y="3027.1" text-anchor="middle" font-family="'Liberation Serif', 'Times New Roman', serif" font-size="62" fill="#262626" stroke="#262626" stroke-width="0.7">SNR(dB)</text>
<text transform="translate(85.8,2280.5) rotate(-90)" x="0" y="0" text-anchor="middle" font-family="'Liberation Serif', 'Times New Roman', serif" font-size="62" fill="#262626" stroke="#262626" stroke-width="0.7">RMSE(m)</text>
<g font-family="'Liberation Serif', 'Times New Roman', serif" font-size="78" fill="#000" stroke="#000" stroke-width="0.4"><text x="494.93" y="3149.8" textLength="205.22" lengthAdjust="spacingAndGlyphs">RMSE</text><text x="719.1" y="3149.8" textLength="65.7" lengthAdjust="spacingAndGlyphs">of</text><text x="804.38" y="3149.8" textLength="210.42" lengthAdjust="spacingAndGlyphs">height</text><text x="1032.31" y="3149.8" textLength="350.66" lengthAdjust="spacingAndGlyphs">estimation</text></g>
<rect x="1190.6" y="1672" width="540.9" height="366.8" fill="#fff" stroke="#262626" stroke-width="3"/>
<path d="M1204.2 1702.8H1345.2" stroke="#000000" stroke-width="8.0" fill="none"/>
<path d="M1259.4 1702.8H1288.6M1274 1688.2V1717.4" fill="none" stroke="#000000" stroke-width="8"/>
<text transform="translate(1353.2,1717) scale(1.008,1)" font-family="'Liberation Serif', 'Times New Roman', serif" font-size="42" fill="#000" stroke="#000" stroke-width="0.9">ULA-GMUSIC</text>
<path d="M1204.2 1753.55H1345.2" stroke="#F65316" stroke-width="8.0" fill="none"/>
<path d="M1263.68 1743.23L1284.32 1763.87M1263.68 1763.87L1284.32 1743.23" fill="none" stroke="#F65316" stroke-width="8"/>
<text transform="translate(1353.2,1767.75) scale(1.008,1)" font-family="'Liberation Serif', 'Times New Roman', serif" font-size="42" fill="#000" stroke="#000" stroke-width="0.9">CPA-RD-UGMUSIC</text>
<path d="M1204.2 1804.3H1345.2" stroke="#7FBA00" stroke-width="8.0" fill="none"/>
<circle cx="1274" cy="1804.3" r="13.8" fill="none" stroke="#7FBA00" stroke-width="7.8"/>
<text transform="translate(1353.2,1818.5) scale(1.008,1)" font-family="'Liberation Serif', 'Times New Roman', serif" font-size="42" fill="#000" stroke="#000" stroke-width="0.9">NA-RD-UGMUSIC</text>
<path d="M1204.2 1855.05H1345.2" stroke="#00A4EF" stroke-width="8.0" fill="none"/>
<path d="M1259.4 1855.05H1288.6M1274 1840.45V1869.65" fill="none" stroke="#00A4EF" stroke-width="8"/>
<text transform="translate(1353.2,1869.25) scale(1.008,1)" font-family="'Liberation Serif', 'Times New Roman', serif" font-size="42" fill="#000" stroke="#000" stroke-width="0.9">CPA-UGMUSIC</text>
<path d="M1204.2 1905.8H1345.2" stroke="#FFB900" stroke-width="8.0" fill="none"/>
<path d="M1259.4 1905.8H1288.6M1274 1891.2V1920.4M1263.68 1895.48L1284.32 1916.12M1263.68 1916.12L1284.32 1895.48" fill="none" stroke="#FFB900" stroke-width="8"/>
<text transform="translate(1353.2,1920) scale(1.008,1)" font-family="'Liberation Serif', 'Times New Roman', serif" font-size="42" fill="#000" stroke="#000" stroke-width="0.9">CPA-GMUSIC</text>
<path d="M1204.2 1956.55H1345.2" stroke="#00FFFF" stroke-width="8.0" fill="none"/>
<path d="M1259.4 1956.55H1288.6M1274 1941.95V1971.15M1263.68 1946.23L1284.32 1966.87M1263.68 1966.87L1284.32 1946.23" fill="none" stroke="#00FFFF" stroke-width="8"/>
<text transform="translate(1353.2,1970.75) scale(1.008,1)" font-family="'Liberation Serif', 'Times New Roman', serif" font-size="42" fill="#000" stroke="#000" stroke-width="0.9">NA-UGMUSIC</text>
<path d="M1204.2 2007.3H1345.2" stroke="#FF00FF" stroke-width="8.0" fill="none"/>
<path d="M1263.68 1996.98L1284.32 2017.62M1263.68 2017.62L1284.32 1996.98" fill="none" stroke="#FF00FF" stroke-width="8"/>
<text transform="translate(1353.2,2021.5) scale(1.008,1)" font-family="'Liberation Serif', 'Times New Roman', serif" font-size="42" fill="#000" stroke="#000" stroke-width="0.9">NA-GMUSIC</text>
</svg>
</body></html>
